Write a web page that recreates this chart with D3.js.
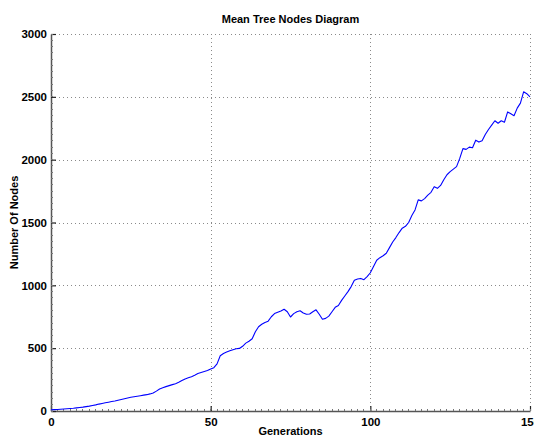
<!DOCTYPE html>
<html>
<head>
<meta charset="utf-8">
<script src="https://cdn.jsdelivr.net/npm/d3@7"></script>
<style>
  html, body { margin: 0; padding: 0; background: #fff; }
  svg { display: block; }
  text { font-family: "Liberation Sans", Arial, Helvetica, sans-serif; font-weight: bold; fill: #000; }
</style>
</head>
<body>
<svg id="chart" width="534" height="437"></svg>
<script>
// Mean number of tree nodes per generation (generation 0..150)
const generations = d3.range(0, 151);
const meanNodes = [
  10, 11, 12, 14, 16, 18, 20, 22, 25, 28,
  31, 35, 39, 44, 49, 55, 60, 65, 70, 75,
  80, 86, 92, 98, 104, 110, 114, 118, 122, 126,
  130, 136, 143, 158, 175, 185, 194, 202, 210, 217,
  228, 242, 255, 264, 273, 285, 298, 306, 314, 322,
  335, 345, 375, 440, 458, 470, 480, 488, 495, 498,
  515, 540, 555, 575, 630, 670, 690, 705, 715, 750,
  775, 785, 795, 810, 790, 748, 775, 790, 798, 780,
  770, 772, 790, 805, 770, 730, 737, 755, 790, 825,
  840, 880, 915, 950, 990, 1040, 1050, 1055, 1045, 1070,
  1100, 1150, 1200, 1220, 1235, 1255, 1300, 1345, 1380, 1420,
  1455, 1470, 1500, 1555, 1600, 1680, 1672, 1690, 1718, 1740,
  1785, 1772, 1795, 1840, 1880, 1905, 1925, 1945, 2010, 2088,
  2082, 2100, 2095, 2155, 2140, 2150, 2200, 2240, 2275, 2310,
  2290, 2310, 2298, 2380, 2365, 2350, 2410, 2450, 2540, 2525,
  2500
];
const xTicks = [0, 50, 100, 150];
const yTicks = [0, 500, 1000, 1500, 2000, 2500, 3000];

const titleText = "Mean Tree Nodes Diagram";
const xLabel = "Generations";
const yLabel = "Number Of Nodes";

const svg = d3.select("#chart");
const margin = { top: 34, right: 4, bottom: 26, left: 51 };
const W = 534, H = 437;

const x = d3.scaleLinear().domain([0, 150]).range([margin.left, W - margin.right]);
const y = d3.scaleLinear().domain([0, 3000]).range([H - margin.bottom, margin.top]);

const x0 = x(0), x1 = x(150), y0 = y(0), y1 = y(3000);

// Dotted grid
const grid = svg.append("g").attr("stroke", "#8a8a8a").attr("stroke-width", 1)
  .attr("stroke-dasharray", "1,3").attr("shape-rendering", "crispEdges");
grid.selectAll("line.v").data(xTicks.slice(1)).join("line")
  .attr("x1", d => Math.round(x(d)) + 0.5).attr("x2", d => Math.round(x(d)) + 0.5)
  .attr("y1", y1).attr("y2", y0);
grid.selectAll("line.h").data(yTicks.slice(1)).join("line")
  .attr("x1", x0).attr("x2", x1)
  .attr("y1", d => Math.round(y(d)) + 0.5).attr("y2", d => Math.round(y(d)) + 0.5);

// Axes with inward ticks, plain integer labels
const fmt = d3.format("d");
const xAxis = d3.axisBottom(x).tickValues(xTicks).tickFormat(fmt).tickSizeInner(-5).tickSizeOuter(0).tickPadding(9);
const yAxis = d3.axisLeft(y).tickValues(yTicks).tickFormat(fmt).tickSizeInner(-5).tickSizeOuter(0).tickPadding(9);

const gx = svg.append("g").attr("transform", `translate(0,${y0})`).call(xAxis);
const gy = svg.append("g").attr("transform", `translate(${x0},0)`).call(yAxis);
[gx, gy].forEach(g => {
  g.select(".domain").attr("stroke", "#555").attr("stroke-width", 1.5);
  g.selectAll(".tick line").attr("stroke", "#222").attr("stroke-width", 1.2);
  g.selectAll(".tick text").attr("font-size", 11.5).attr("font-weight", "bold")
    .attr("font-family", "'Liberation Sans', Arial, sans-serif").attr("fill", "#000");
});
gy.selectAll(".tick text").attr("dx", 5).attr("dy", "0.32em");
gx.selectAll(".tick text").attr("dy", "0.5em");

// Minor ticks along the two axes
const minor = svg.append("g").attr("stroke", "#777").attr("stroke-width", 1).attr("shape-rendering", "crispEdges");
minor.selectAll("line.mx").data(d3.range(0, 151, 2)).join("line")
  .attr("x1", d => x(d)).attr("x2", d => x(d)).attr("y1", y0).attr("y2", y0 - 2);
minor.selectAll("line.my").data(d3.range(0, 3001, 50)).join("line")
  .attr("x1", x0).attr("x2", x0 + 2).attr("y1", d => y(d)).attr("y2", d => y(d));

// Data line
const line = d3.line().x((d, i) => x(generations[i])).y(d => y(d));
svg.append("path").datum(meanNodes)
  .attr("fill", "none").attr("stroke", "#0000ff").attr("stroke-width", 1.1)
  .attr("stroke-linejoin", "round").attr("d", line);

// Title and axis labels
svg.append("text").attr("x", (x0 + x1) / 2).attr("y", 23).attr("text-anchor", "middle")
  .attr("font-size", 11).text(titleText);
svg.append("text").attr("x", (x0 + x1) / 2).attr("y", 435).attr("text-anchor", "middle")
  .attr("font-size", 11).text(xLabel);
svg.append("text").attr("transform", `translate(18,${(y0 + y1) / 2}) rotate(-90)`)
  .attr("text-anchor", "middle").attr("font-size", 11).text(yLabel);
</script>
</body>
</html>
